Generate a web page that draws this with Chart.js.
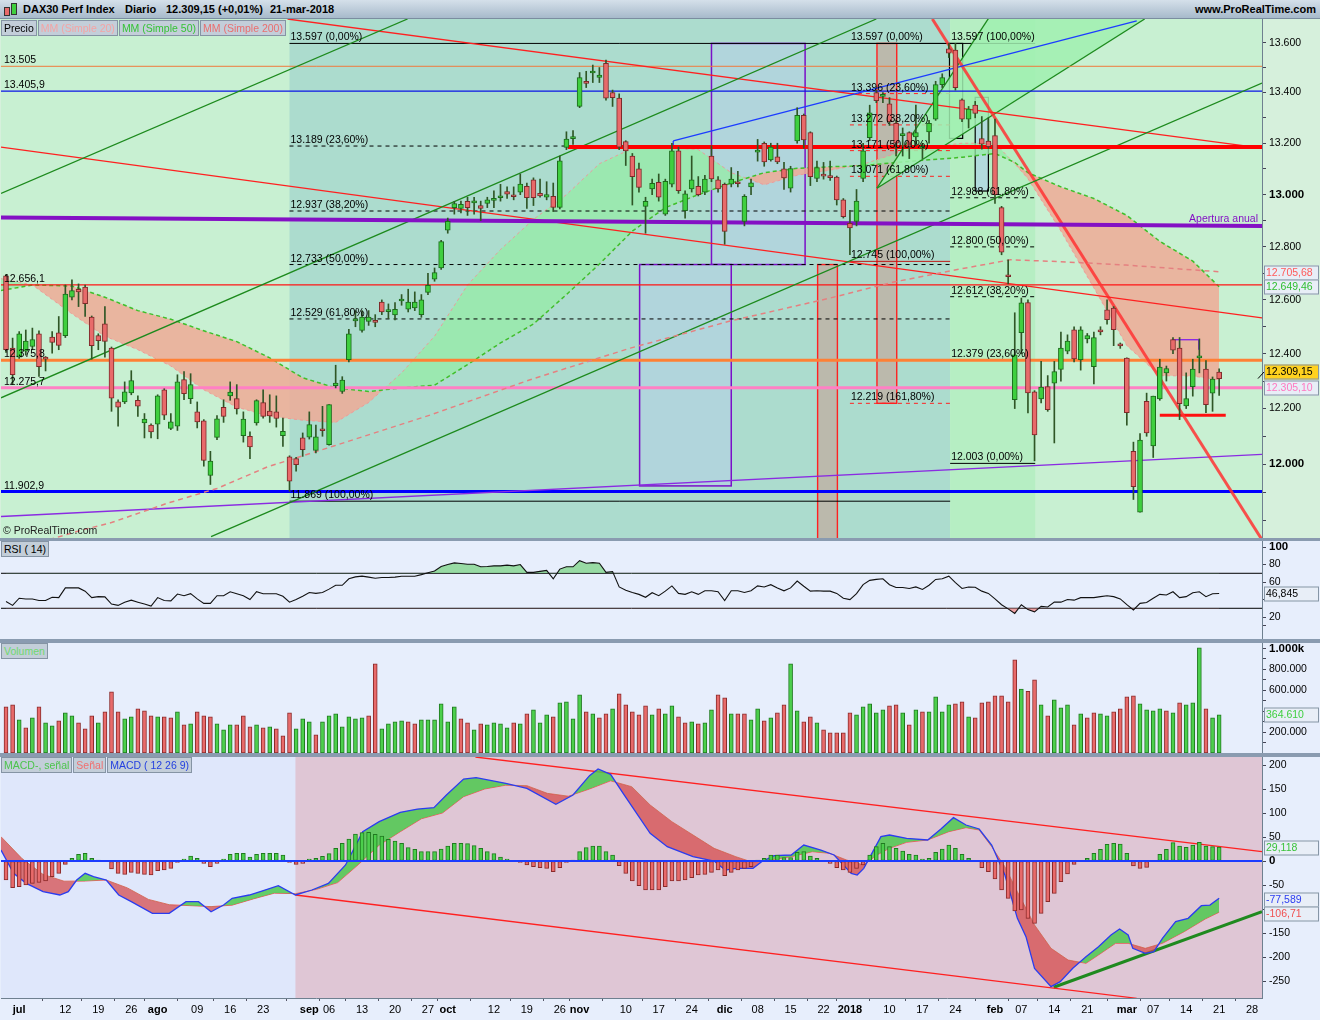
<!DOCTYPE html>
<html lang="es">
<head>
<meta charset="utf-8">
<title>DAX30 Perf Index - Diario</title>
<script src="https://cdn.jsdelivr.net/npm/chart.js@4.4.1/dist/chart.umd.min.js"></script>
<style>
  html, body { margin: 0; padding: 0; }
  body { width: 1320px; height: 1020px; position: relative; overflow: hidden; background: #8a9bb0;
         font-family: "Liberation Sans", Arial, sans-serif; }
  canvas { position: absolute; left: 0; display: block; }
  #header { position: absolute; left: 0; top: 0; width: 1320px; height: 19px; box-sizing: border-box;
            background: linear-gradient(#d5e0ea, #a7bacb); border-bottom: 1px solid #7b8da0;
            font-size: 11px; font-weight: bold; color: #000; }
  #header span { position: absolute; top: 3px; white-space: pre; }
  .ico { position: absolute; width: 4px; border: 1px solid #333; }
  .legend { position: absolute; left: 1px; display: flex; font-size: 10.5px; z-index: 2; }
  .legend span { background: #c3ced9; border: 1px solid #8594a4; padding: 0 2px; height: 14px; line-height: 14px; margin-right: 1px; }
  #copy { position: absolute; left: 3px; top: 524px; font-size: 10.5px; color: #222; }
</style>
</head>
<body>
<div id="header">
  <div class="ico" style="left:4px;top:7px;height:7px;background:#e86a6a"></div>
  <div class="ico" style="left:11px;top:3px;height:10px;background:#3fcf3f"></div>
  <span style="left:23px">DAX30 Perf Index</span>
  <span style="left:125px">Diario</span>
  <span style="left:166px">12.309,15 (+0,01%)</span>
  <span style="left:270px">21-mar-2018</span>
  <span style="right:4px">www.ProRealTime.com</span>
</div>

<canvas id="cPrice" width="1320" height="519" style="top:19px"></canvas>
<div class="legend" style="top:20px">
  <span style="color:#000">Precio</span><span style="color:#f4a4a4">MM (Simple 20)</span><span style="color:#36c336">MM (Simple 50)</span><span style="color:#ea6e6e">MM (Simple 200)</span>
</div>
<div id="copy">© ProRealTime.com</div>

<canvas id="cRsi" width="1320" height="98" style="top:541px"></canvas>
<div class="legend" style="top:541px"><span style="color:#000">RSI ( 14)</span></div>

<canvas id="cVol" width="1320" height="110" style="top:643px"></canvas>
<div class="legend" style="top:643px"><span style="color:#6fd86f">Volumen</span></div>

<canvas id="cMacd" width="1320" height="263" style="top:757px"></canvas>
<div class="legend" style="top:757px">
  <span style="color:#4cc44c">MACD-, señal</span><span style="color:#f07070">Señal</span><span style="color:#2440e0">MACD ( 12 26 9)</span>
</div>

<script>
// ===== daily series, one value per trading day (29-jun-2017 .. 21-mar-2018) =====
const candleOpen = [12690,12421,12388,12410,12427,12474,12388,12462,12477,12467,
  12610,12640,12648,12536,12467,12511,12421,12224,12224,12257,
  12230,12148,12140,12144,12268,12128,12136,12305,12236,12188,
  12156,11960,12096,12204,12246,12236,12102,12100,12148,12222,
  12191,12188,12102,12026,12020,12094,12097,12049,12125,12070,
  12283,12262,12378,12522,12486,12520,12523,12592,12556,12544,
  12596,12565,12570,12545,12628,12678,12720,12864,12950,12947,
  12974,12968,12958,12966,12978,12988,13012,12996,13010,13032,
  13057,13005,12990,12994,12951,13184,13218,13345,13445,13478,
  13460,13517,13400,13378,13206,13150,13100,12955,13022,13048,
  12925,13041,13170,12938,13022,13032,13010,13150,13057,13040,
  13041,13050,12897,13030,13165,13200,13135,13147,13100,13025,
  13209,13310,13242,13063,13078,13070,13068,12980,12890,12897,
  13063,13222,13400,13385,13355,13278,13230,13242,13225,13180,
  13244,13295,13432,13575,13570,13371,13295,13350,13218,13208,
  13230,12950,12690,12232,12478,12590,12261,12235,12280,12292,
  12343,12410,12489,12378,12455,12353,12489,12563,12569,12437,
  12384,12046,11830,12226,12065,12235,12330,12452,12421,12210,
  12280,12385,12344,12256,12333];
const candleHigh = [12695,12458,12482,12488,12495,12485,12390,12482,12538,12656,
  12675,12660,12656,12540,12474,12575,12425,12232,12297,12338,
  12246,12182,12145,12250,12272,12182,12323,12335,12327,12224,
  12160,12046,12175,12232,12297,12287,12188,12116,12232,12268,
  12250,12246,12166,12030,12025,12112,12188,12140,12208,12214,
  12358,12316,12490,12560,12560,12560,12545,12600,12585,12590,
  12620,12640,12630,12620,12700,12720,12825,12910,12974,12975,
  12990,12990,12975,12990,13015,13040,13030,13030,13080,13045,
  13065,13060,13050,13045,13150,13245,13250,13480,13485,13510,
  13500,13530,13410,13395,13210,13160,13122,12990,13060,13080,
  13060,13200,13185,13015,13150,13070,13075,13190,13070,13045,
  13105,13090,13000,13060,13215,13205,13200,13200,13125,13110,
  13340,13315,13245,13130,13125,13130,13072,12985,12940,13020,
  13200,13350,13410,13400,13380,13290,13260,13245,13350,13200,
  13290,13445,13475,13597,13597,13375,13345,13365,13305,13300,
  13295,12955,12751,12552,12607,12600,12265,12372,12320,12372,
  12480,12470,12500,12500,12475,12480,12500,12600,12575,12440,
  12385,12079,12110,12256,12245,12380,12355,12460,12460,12330,
  12380,12455,12375,12315,12345];
const candleLow = [12405,12287,12383,12395,12415,12317,12337,12402,12415,12460,
  12600,12575,12538,12380,12415,12388,12190,12136,12218,12250,
  12172,12094,12094,12091,12160,12124,12121,12232,12218,12130,
  11993,11928,12088,12150,12230,12180,12079,12020,12140,12165,
  12150,12133,12064,11904,11975,12028,12090,12040,12100,12068,
  12275,12255,12370,12500,12480,12505,12500,12545,12530,12525,
  12580,12555,12560,12535,12620,12670,12715,12852,12925,12930,
  12920,12925,12900,12950,12950,12975,12985,12980,13000,12947,
  12958,12990,12980,12935,12945,13175,13195,13340,13420,13440,
  13440,13370,13345,13175,13113,12960,13010,12852,13000,12975,
  12920,13030,13005,12910,13010,12995,13000,13050,13010,12810,
  13030,13030,12880,13000,13130,13110,13130,13120,13020,13010,
  13200,13180,13035,13050,13060,13055,12960,12910,12770,12880,
  13050,13210,13360,13360,13270,13150,13150,13140,13190,13140,
  13200,13290,13420,13540,13410,13285,13260,13300,13177,13180,
  12966,12770,12660,12200,12400,12184,12012,12220,12190,12076,
  12300,12400,12370,12340,12440,12290,12470,12510,12430,12420,
  12140,11875,11830,12100,12024,12230,12300,12400,12160,12200,
  12245,12330,12185,12190,12248];
const candleClose = [12415,12323,12474,12447,12452,12353,12380,12442,12431,12622,
  12635,12630,12586,12430,12448,12446,12238,12205,12261,12302,
  12209,12162,12116,12246,12176,12152,12297,12254,12287,12152,
  12014,12011,12163,12172,12260,12199,12162,12062,12229,12172,
  12173,12164,12118,11940,11998,12052,12142,12098,12120,12214,
  12293,12304,12474,12526,12536,12536,12516,12555,12562,12565,
  12600,12592,12592,12600,12655,12703,12820,12897,12966,12963,
  12950,12972,12947,12980,12984,12993,13002,12992,13041,12988,
  12988,12995,13000,12951,13131,13216,13222,13460,13437,13482,
  13470,13378,13380,13185,13170,13070,13028,12974,13044,12990,
  13052,13170,13015,13003,13057,13000,13060,13061,13022,12859,
  13060,13042,12994,13046,13172,13127,13185,13127,13065,13101,
  13310,13213,13070,13105,13072,13066,12980,12915,12872,12975,
  13170,13320,13368,13388,13285,13200,13238,13187,13242,13185,
  13278,13432,13460,13558,13420,13295,13335,13317,13196,13187,
  13000,12780,12687,12396,12589,12257,12105,12278,12196,12335,
  12421,12447,12381,12489,12467,12460,12481,12526,12489,12429,
  12185,11920,12086,12112,12245,12351,12346,12413,12218,12236,
  12344,12390,12214,12307,12309.15];

// volume in thousands, and the bar colour letter (G up / R down)
const volumeK = [442,461,318,241,337,442,289,260,308,385,
  356,289,232,356,289,394,585,394,327,346,
  423,404,356,346,346,337,394,270,279,394,
  356,346,279,222,270,270,356,251,270,241,
  251,232,165,385,232,327,299,174,299,356,
  375,251,346,327,337,356,853,232,279,299,
  308,299,279,318,318,318,470,299,442,327,
  289,222,279,270,289,279,241,289,279,375,
  413,289,365,346,480,490,327,557,394,375,
  337,375,423,566,461,394,365,451,365,423,
  375,451,346,289,299,279,289,413,557,528,
  375,375,375,318,423,308,337,385,461,853,
  404,299,346,289,222,193,193,193,385,365,
  442,470,385,413,451,461,385,270,413,394,
  394,538,394,461,470,490,346,337,480,490,
  547,547,490,892,611,589,700,461,356,509,
  432,461,270,375,337,385,375,356,394,423,
  538,547,470,413,404,423,404,385,480,461,
  480,1007,423,337,364.61];
const volumeDir = "RRGRGRGGRG" + "GRRRGRRRGG" + "RRRGRRGRGR" + "RRGGGRRRGR" + "GRRRGGGRGG" +
  "GGGGGRRGGG" + "GRRGGGGGGR" + "RGRGGGGRGR" + "GGGRGGGGRG" + "RRGRRRRRGR" +
  "GGRRGRGGRR" + "GRRGGRGRRG" + "GRRGRRRRRG" + "GGGGRRGRGR" + "GGGGRRGRRR" +
  "RRRRGRRGRG" + "GGRGRRGGRR" + "RRGGGGRGRG" + "GGRGG";

const rsi14 = [37.8,33.3,41.5,40.7,40.7,38.9,38.9,42.6,42.2,53.3,
  53.3,53.3,49.6,42.2,43.3,43.0,34.8,33.3,37.0,39.3,
  37.0,34.8,32.6,42.2,38.9,38.5,46.3,44.4,46.7,40.7,
  35.6,35.6,44.4,44.4,48.9,46.7,44.4,40.0,48.9,46.7,
  46.7,46.7,43.7,37.0,40.0,43.7,48.1,47.0,48.1,51.9,
  56.3,56.3,63.7,65.9,66.7,65.6,64.4,65.2,65.2,65.6,
  66.7,66.7,66.7,68.5,70.7,72.6,77.8,80.0,81.9,81.1,
  80.4,80.4,77.4,77.8,78.5,78.5,79.3,78.5,80.0,71.1,
  71.1,72.2,73.3,63.7,74.8,77.4,77.4,84.4,81.5,82.2,
  81.5,71.1,71.9,54.4,50.7,48.1,45.9,42.6,47.8,44.4,
  49.6,55.6,47.0,45.9,48.9,45.9,50.0,50.0,48.9,38.9,
  50.0,50.0,48.1,50.0,55.6,54.4,57.0,53.3,50.0,53.3,
  61.1,55.2,49.6,50.0,49.6,49.6,47.0,41.5,40.0,46.7,
  57.0,61.9,63.0,63.7,57.0,53.7,53.7,52.6,54.4,51.5,
  56.3,63.0,63.7,66.7,59.3,52.6,54.4,54.1,49.6,47.0,
  40.7,34.1,29.3,24.1,34.1,28.5,25.9,32.2,31.5,37.0,
  37.0,40.0,39.3,42.2,42.2,42.2,43.3,44.4,43.3,40.7,
  34.1,28.1,35.6,36.7,41.5,45.9,45.2,48.9,42.2,43.3,
  47.8,48.9,43.3,46.7,46.845];

const macdHist = [-39.6,-55.6,-53.5,-50,-46.5,-44.4,-41.7,-32.6,-25.7,-6.9,
  5.6,13.9,16,5.6,2.1,0.5,-16.7,-25.7,-27.8,-23.6,
  -25.7,-27.8,-29.2,-20.1,-18.8,-15.3,-2.8,4.2,10.4,5.6,
  -4.9,-11.8,-4.9,4.2,13.9,16,16,8.3,13.9,16,
  16,16,12.5,-2.8,-6.9,-4.9,4.2,5.6,9.7,15.3,
  26.4,36.8,45.8,56.3,59,59.7,55.6,52.1,45.1,41.7,
  36.8,27.8,24.3,19.4,19.4,19.4,25,31.3,36.8,36.8,
  36.1,31.9,26.4,19.4,15.3,8.3,4.2,0.5,-2.8,-8.3,
  -11.8,-13.9,-15.3,-22.2,-13.9,-2.8,2.1,19.4,27.8,31.3,
  31.3,19.4,12.5,-9.7,-25.7,-41.7,-51.4,-60.4,-60.4,-60.4,
  -53.5,-41.7,-41.7,-39.6,-34.7,-29.2,-27.8,-23.6,-18.8,-30.6,
  -23.6,-18.8,-15.3,-11.8,2.1,5.6,12.5,12.5,6.9,6.9,
  18.1,19.4,10.4,5.6,0.3,-4.9,-13.9,-18.8,-23.6,-15.3,
  -8.3,12.5,29.9,36.8,29.9,26.4,20.8,13.9,12.5,4.2,
  5.6,18.1,25,33.3,26.4,13.9,5.6,0.3,-13.9,-22.2,
  -37.5,-60.4,-77.8,-104.2,-102.1,-119.4,-129.9,-109,-84.7,-67.4,
  -43.1,-27.1,-6.9,1,5.6,16,24.3,34.7,36.8,35.4,
  16,-10.4,-15.3,-13.2,0.5,13.9,24.3,38.2,31.3,28.5,
  33.3,38.9,31.3,29.9,29.118];

// ===== smooth lines read at sampled day positions =====
const maIdx = [-0.8,4,10,15,20,25,30,35,40,45,50,55,60,65,70,75,80,85,90,95,100,105,110,115,120,125,130,135,140,145,150,153,155,160,165,170,175,180,184];
const mm50  = [12635,12656,12652,12610,12560,12528,12485,12445,12385,12312,12275,12262,12275,12285,12360,12440,12510,12620,12735,12860,12950,13000,13045,13085,13102,13108,13112,13125,13135,13145,13160,13125,13085,13030,12985,12920,12821,12746,12649.46];
const mm20  = [12680,12656,12548,12465,12415,12355,12268,12205,12172,12158,12150,12222,12330,12465,12656,12790,12905,13000,13120,13180,13184,13175,13085,13038,13075,13095,13118,13160,13185,13200,13200,13120,13062,12860,12645,12430,12320,12318,12305.1];
const mm200Idx = [0,11.4,16,24.5,32,39.6,49.7,64.4,79.5,94.7,109.8,125,134.6,144.7,152.3,159.8,169.9,184];
const mm200    = [11690,11767,11794,11862,11914,11990,12065,12177,12305,12421,12521,12607,12667,12716,12751,12744,12731,12705.68];

const macdIdx = [-0.76,1.15,3.07,5.62,8.17,9.45,10.72,12,13.27,15.2,17.1,19,22.2,24.75,27.3,29.2,31.1,33,34.3,36.9,38.8,41.3,43.9,46.4,48.9,51.5,54.1,56.6,59.8,62.4,64.9,66.8,69.4,71.3,75.8,79,83.4,86,88.5,89.8,91.7,93.6,97.7,100.3,104.2,107.4,109.1,110.7,113.3,114.6,116.5,119.1,121,123.6,125.6,128.2,129.1,130.1,132.7,134,136.6,139.8,141.8,143.7,145.6,147.6,149.5,151.5,153.4,154.7,156,158.5,159.9,161.8,163.8,165.7,167.6,168.9,170.2,170.9,172.8,174.1,175.4,177.4,179.3,181.3,182.6,184];
const macdLine = [22.9,-25.7,-46.5,-63.9,-70.8,-63.9,-39.6,-25.7,-32.6,-39.6,-70.8,-84.7,-109,-109,-84.7,-84.7,-105.6,-91.7,-77.8,-70.8,-62.5,-51.4,-70.8,-60.4,-46.5,-8.3,61.1,81.9,101.4,108.3,111.1,137.5,170.8,173.6,161.8,151.4,118.1,137.5,177.8,191.7,180.6,141,57.6,29.9,9,0,-18.8,-15.3,-15.3,-1.4,11.1,12.5,33.3,22.9,12.5,-25.7,-29.2,-15.3,50.7,54.2,47.2,43.8,66.7,90.3,75,66.7,33.3,-29.2,-119.4,-157.6,-223.6,-261.8,-251.4,-223.6,-199.3,-178.5,-154.2,-141.7,-154.2,-181.9,-192.4,-188.9,-161.1,-126.4,-119.4,-93.1,-91.7,-77.589];
const signalIdx = [-0.76,2.43,5.62,8.8,12,15.2,18.4,21.6,24.75,27.9,31.1,34.3,37.5,40.7,43.9,47.1,50.3,53.4,56.6,59.8,63,66.2,69.4,72.6,75.8,79,82.1,85.3,88.5,91.7,94.9,97.7,101,104.2,107.4,110.7,113.3,115.9,119.1,122.3,124.9,127.5,130.1,132.1,134,136.6,139.8,143,145.6,147.6,149.5,151.5,153.4,156,158.5,161.1,163.8,165.7,168.3,170.2,172.8,175.4,178.7,181.9,184];
const signalLine = [50.7,5,-28,-42,-41.7,-39.6,-56,-80,-91,-93,-95,-92,-79,-67,-68,-59,-45,-8,33,61,88,100,134,150,158,157,141,135,150,167,154.9,116.7,81.9,54.2,26.4,9,-2.8,2.1,9,19.4,16,2.1,-8.3,12.5,26.4,38.9,43.8,61.1,69.4,64.6,29.9,-11.8,-63.9,-133.3,-181.9,-206.3,-213.2,-195.8,-171.5,-171.5,-181.9,-171.5,-147.2,-120.8,-106.71];

// ===== horizontal levels and drawn objects (day index, price) =====
const levelValues = [13505, 13405.9, 12656.1, 12375.8, 12275.7, 11902.9];
const levelKinds  = ['orange', 'blue', 'red', 'orangeThick', 'pinkThick', 'blueThick'];

// [from day, to day, price at from, price at to, kind]
const priceLines = [
  [85.2, 190.5, 13185, 13185, 'redThick'],
  [-0.76, 190.5, 12912, 12880, 'purpleThick'],
  [-0.76, 132.0, 12239, 13696, 'green'],
  [-0.76, 60.9, 13005, 13696, 'green'],
  [31.1, 190.5, 11745, 13438, 'green'],
  [101.2, 171.5, 13209, 13688, 'blue1'],
  [101.2, 101.2, 13209, 13185, 'blue1'],
  [-0.76, 190.5, 13185, 12533, 'red1'],
  [42.7, 190.5, 13696, 13181, 'red1'],
  [140.5, 190.5, 13696, 11734, 'redSteep'],
  [-0.76, 190.5, 11815, 12035, 'purple1'],
  [175.0, 185.0, 12176, 12176, 'redShort'],
  [176.9, 180.9, 12452, 12452, 'purple1'],
  [180.9, 180.9, 12452, 12415, 'purple1']
];
// green fan filled between its two rays
const fanRayA = [132.1, 172.7, 13025, 14700];
const fanRayB = [132.1, 172.7, 13025, 13696];

const fibSets = [
  { from: 43.0, to: 143.2, values: [13597, 13189, 12937, 12733, 12529, 11869],
    pcts: ['0,00%', '23,60%', '38,20%', '50,00%', '61,80%', '100,00%'], kinds: ['solid', 'dash', 'dash', 'dash', 'dash', 'solid'] },
  { from: 128.0, to: 143.2, values: [13597, 13396, 13272, 13171, 13071, 12745, 12219],
    pcts: ['0,00%', '23,60%', '38,20%', '50,00%', '61,80%', '100,00%', '161,80%'], kinds: ['solid', 'redDash', 'redDash', 'redDash', 'redDash', 'redSolid', 'redDash'] },
  { from: 143.2, to: 156.1, values: [13597, 12988, 12800, 12612, 12379, 12003],
    pcts: ['100,00%', '61,80%', '50,00%', '38,20%', '23,60%', '0,00%'], kinds: ['solid', 'dash', 'dash', 'dash', 'dash', 'solid'] }
];

// [from day, to day, top price (null = top), bottom price (null = bottom), kind]
const priceZones = [
  [43.0, 143.2, null, null, 'teal'],
  [143.2, 156.1, null, null, 'greenCol'],
  [107.0, 121.2, 13597, 12733, 'blueBox'],
  [96.1, 110.0, 12733, 11923, 'blueBox'],
  [123.1, 126.1, 12733, null, 'grayBox'],
  [132.1, 135.1, 13597, 12219, 'grayBox'],
  [143.1, 145.1, 13597, 13219, 'blackBox'],
  [147.0, 149.0, 13381, 13014, 'blackBlue']
];

// MACD pane objects
const macdChannel = [
  [71.2, 190.5, 216.7, 19.4, 'red1'],
  [43.9, 171.5, -70.8, -286, 'red1'],
  [158.9, 190.5, -263, -105.6, 'greenThick']
];
const macdBand = [43.9, 190.5];

// axes (labels that sit under a value tag are left blank, as in the picture)
const priceTicks = [11800,11900,12000,12100,12200,12300,12400,12500,12600,12700,12800,12900,13000,13100,13200,13300,13400,13500,13600];
const rsiTicks = [10, 20, 40, 60, 80, 100];
const volTicks = [100, 200, 300, 400, 500, 600, 700, 800, 900, 1000];
const macdTicks = [-250, -200, -150, -100, -50, 0, 50, 100, 150, 200];
const hiddenLabels = { rsi: [10, 40], vol: [400], macd: [-100] };
const dateTickIdx = [2,9,14,19,23,29,34,39,46,49,54,59,64,67,74,79,84,87,94,99,104,109,114,119,124,128,134,139,144,150,154,159,164,170,174,179,184,189];
const dateTickText = ['jul','12','19','26','ago','09','16','23','sep','06','13','20','27','oct','12','19','26','nov','10','17','24','dic','08','15','22','2018','10','17','24','feb','07','14','21','mar','07','14','21','28'];
const monthNames = ['jul','ago','sep','oct','nov','dic','2018','feb','mar'];

// ===== styles =====
const FONT = '"Liberation Sans", Arial, sans-serif';
const X_MIN = -0.76, X_MAX = 190.5;
const PRICE_MIN = 11740, PRICE_MAX = 13696;

const lineStyle = {
  orange:      { c: '#f07a3c', w: 1 },
  blue:        { c: '#0a14e6', w: 1.3 },
  red:         { c: '#ff1414', w: 1.3 },
  orangeThick: { c: '#ff8035', w: 3 },
  pinkThick:   { c: '#ff80c4', w: 3 },
  blueThick:   { c: '#0000ff', w: 3 },
  redThick:    { c: '#ff0000', w: 4 },
  purpleThick: { c: '#8410c4', w: 4 },
  green:       { c: '#1d8a1d', w: 1.3 },
  blue1:       { c: '#1c3cff', w: 1.3 },
  red1:        { c: '#ff2020', w: 1.3 },
  redSteep:    { c: 'rgba(255,50,50,0.85)', w: 3 },
  purple1:     { c: '#8a2be2', w: 1.4 },
  redShort:    { c: '#ff1010', w: 3 },
  greenThick:  { c: '#1f8a1f', w: 3 },
  solid:       { c: '#000', w: 1 },
  dash:        { c: '#000', w: 1, d: [4, 4] },
  redDash:     { c: '#ff2020', w: 1, d: [4, 4] },
  redSolid:    { c: '#c01818', w: 1 }
};
const zoneStyle = {
  teal:      { fill: '#acdcce' },
  greenCol:  { fill: '#b6eec3' },
  blueBox:   { fill: '#b1d5dc', stroke: '#7a10c8', lw: 1.5 },
  grayBox:   { fill: '#bbb9ac', stroke: '#ff2020', lw: 1.4 },
  blackBox:  { stroke: '#000', lw: 1.2 },
  blackBlue: { fill: 'rgba(178,214,228,0.8)', stroke: '#000', lw: 1.2 },
  pinkBand:  { fill: '#dfc6d5' }
};

function fmtNum(v, dec) {
  const s = Math.abs(v).toFixed(dec).split('.');
  const int = s[0].replace(/\B(?=(\d{3})+(?!\d))/g, '.');
  return (v < 0 ? '-' : '') + int + (s[1] ? ',' + s[1] : '');
}
const fmtAuto = v => fmtNum(v, Number.isInteger(v) ? 0 : 1);

Chart.defaults.font.family = FONT;
Chart.defaults.font.size = 10.5;
Chart.defaults.color = '#000';
Chart.defaults.animation = false;
Chart.defaults.events = [];
Chart.defaults.elements.point.radius = 0;
Chart.defaults.elements.point.hoverRadius = 0;
Chart.defaults.elements.line.tension = 0;
Chart.defaults.plugins.legend.display = false;
Chart.defaults.plugins.tooltip.enabled = false;

// ===== small plugins: pane colours, shaded zones, texts, value tags =====
Chart.register({
  id: 'paneBg',
  beforeDraw(chart, args, opts) {
    const { ctx, chartArea: a, width, height } = chart;
    ctx.save();
    ctx.fillStyle = opts.outer || '#e7eefc';
    ctx.fillRect(0, 0, width, height);
    ctx.fillStyle = opts.inner || '#e7eefc';
    ctx.fillRect(a.left, a.top, a.right - a.left, a.bottom - a.top);
    ctx.restore();
  }
});

Chart.register({
  id: 'zones',
  beforeDatasetsDraw(chart, args, opts) {
    if (!opts.items) return;
    const { ctx, chartArea: a, scales: { x, y } } = chart;
    ctx.save();
    ctx.beginPath();
    ctx.rect(a.left, a.top, a.right - a.left, a.bottom - a.top);
    ctx.clip();
    opts.items.forEach(z => {
      const st = zoneStyle[z[4]];
      const x1 = x.getPixelForValue(z[0]), x2 = x.getPixelForValue(z[1]);
      const y1 = z[2] == null ? a.top : y.getPixelForValue(z[2]);
      const y2 = z[3] == null ? a.bottom + 2 : y.getPixelForValue(z[3]);
      if (st.fill) { ctx.fillStyle = st.fill; ctx.fillRect(x1, y1, x2 - x1, y2 - y1); }
      if (st.stroke) { ctx.strokeStyle = st.stroke; ctx.lineWidth = st.lw; ctx.strokeRect(x1, y1, x2 - x1, y2 - y1); }
    });
    ctx.restore();
  }
});

Chart.register({
  id: 'texts',
  afterDatasetsDraw(chart, args, opts) {
    if (!opts.items) return;
    const { ctx, scales: { x, y } } = chart;
    ctx.save();
    opts.items.forEach(t => {
      ctx.font = (t.size || 10.5) + 'px ' + FONT;
      ctx.fillStyle = t.color || '#000';
      ctx.textAlign = t.align || 'left';
      ctx.textBaseline = 'alphabetic';
      ctx.fillText(t.text, x.getPixelForValue(t.i) + (t.dx || 0), y.getPixelForValue(t.v) + (t.dy || 0));
    });
    ctx.restore();
  }
});

Chart.register({
  id: 'tags',
  afterDraw(chart, args, opts) {
    if (!opts.items) return;
    const { ctx, chartArea: a, scales: { y } } = chart;
    ctx.save();
    opts.items.forEach(t => {
      const yy = Math.round(y.getPixelForValue(t.value) + (t.dy || 0));
      const x0 = a.right + 2, w = 55, h = 15;
      if (t.tick) {
        ctx.strokeStyle = '#000'; ctx.lineWidth = 1;
        ctx.beginPath(); ctx.moveTo(a.right - 4, y.getPixelForValue(t.value)); ctx.lineTo(a.right + 2, yy); ctx.stroke();
      }
      ctx.fillStyle = t.bg || '#e8eef7';
      ctx.fillRect(x0, yy - h / 2, w, h);
      ctx.strokeStyle = '#8696a6'; ctx.lineWidth = 1;
      ctx.strokeRect(x0 + 0.5, yy - h / 2 + 0.5, w - 1, h - 1);
      ctx.fillStyle = t.color;
      ctx.font = '10.5px ' + FONT;
      ctx.textAlign = 'left'; ctx.textBaseline = 'middle';
      ctx.fillText(t.text, x0 + 2, yy + 0.5);
    });
    ctx.restore();
  }
});

// ===== shared axis builders =====
function xAxis(show) {
  return {
    type: 'linear', min: X_MIN, max: X_MAX, offset: false, display: show,
    afterBuildTicks: s => { s.ticks = dateTickIdx.map(v => ({ value: v })); },
    // no automatic label padding: the pane must span the whole canvas width
    afterFit: s => { s.height = show ? 22 : 0; s.paddingLeft = 0; s.paddingRight = 0; },
    grid: { drawOnChartArea: false, tickLength: 3, color: '#556' },
    border: { color: '#6f8090' },
    ticks: {
      autoSkip: false, maxRotation: 0, minRotation: 0, padding: 2,
      callback: (v, k) => dateTickText[k],
      font: c => ({ family: FONT, size: 11, weight: monthNames.includes(dateTickText[c.index]) ? 'bold' : 'normal' })
    }
  };
}
function yAxis(type, min, max, tickVals, label, boldTest) {
  return {
    type: type, position: 'right', min: min, max: max,
    afterFit: s => { s.width = 58; s.paddingTop = 0; s.paddingBottom = 0; },
    afterBuildTicks: s => { s.ticks = tickVals.map(v => ({ value: v })); },
    grid: { drawOnChartArea: false, tickLength: 4, color: '#445' },
    border: { color: '#6f8090' },
    ticks: {
      autoSkip: false, padding: 3, callback: label,
      font: c => ({ family: FONT, size: c.tick && boldTest(c.tick.value) ? 11.5 : 10.5, weight: c.tick && boldTest(c.tick.value) ? 'bold' : 'normal' })
    }
  };
}
const layout = { padding: { left: 1, right: 0, top: 0, bottom: 0 }, autoPadding: false };

const pts = (xs, ys) => xs.map((x, k) => ({ x: x, y: ys[k] }));
const daily = ys => ys.map((y, i) => ({ x: i, y: y }));
function seg(i1, i2, v1, v2, kind, order) {
  const st = lineStyle[kind];
  return { type: 'line', data: [{ x: i1, y: v1 }, { x: i2, y: v2 }], borderColor: st.c, borderWidth: st.w,
           borderDash: st.d || [], order: order };
}

// ===== price pane =====
const up = candleOpen.map((o, i) => candleClose[i] >= o);
const FAN = 'rgba(160,240,176,0.85)';
const priceSets = [
  { type: 'bar', data: candleOpen.map((o, i) => ({ x: i, y: [o, candleClose[i]] })),
    backgroundColor: up.map(u => u ? '#3fcf3f' : '#e86a6a'), borderColor: up.map(u => u ? '#1c6b1c' : '#7d2a2a'),
    borderWidth: 1, borderSkipped: false, barThickness: 5, minBarLength: 2, grouped: false, order: 0 },
  { type: 'bar', data: candleLow.map((l, i) => ({ x: i, y: [l, candleHigh[i]] })),
    backgroundColor: '#2f5626', barThickness: 1, grouped: false, order: 1 },
  { type: 'line', data: pts(maIdx, mm50), borderColor: '#3fbf2a', borderWidth: 1.5, borderDash: [4, 3], order: 99 },
  { type: 'line', data: pts(maIdx, mm20), borderColor: 'rgba(240,150,150,0.9)', borderWidth: 1, borderDash: [3, 3],
    fill: { target: 2, above: 'rgba(150,236,165,0.75)', below: 'rgba(238,170,150,0.85)' }, order: 100 },
  { type: 'line', data: pts(mm200Idx, mm200), borderColor: '#e58080', borderWidth: 1.5, borderDash: [5, 4], order: 30 },
  seg(fanRayB[0], fanRayB[1], fanRayB[2], fanRayB[3], 'green', 45),
  Object.assign(seg(fanRayA[0], fanRayA[1], fanRayA[2], fanRayA[3], 'green', 46), { fill: { target: 5, above: FAN, below: FAN } })
];
levelValues.forEach((v, k) => priceSets.push(seg(X_MIN, X_MAX, v, v, levelKinds[k], 40)));
fibSets.forEach(f => f.values.forEach((v, k) => priceSets.push(seg(f.from, f.to, v, v, f.kinds[k], 50))));
priceLines.forEach(l => priceSets.push(seg(l[0], l[1], l[2], l[3], l[4], 35)));

const priceTexts = [];
levelValues.forEach(v => priceTexts.push({ i: X_MIN, v: v, text: fmtAuto(v), dx: 3, dy: -3 }));
fibSets.forEach(f => f.values.forEach((v, k) => priceTexts.push({ i: f.from, v: v, text: fmtNum(v, 0) + ' (' + f.pcts[k] + ')', dx: 1, dy: -3 })));
priceTexts.push({ i: X_MAX, v: 12880, text: 'Apertura anual', align: 'right', dx: -4, dy: -4, color: '#8410c4' });

new Chart(document.getElementById('cPrice'), {
  type: 'bar',
  data: { datasets: priceSets },
  options: {
    responsive: false, layout: layout,
    scales: {
      x: xAxis(false),
      y: yAxis('logarithmic', PRICE_MIN, PRICE_MAX, priceTicks,
               v => (v % 200 === 0 && v >= 12000 ? fmtNum(v, 0) : ''), v => v % 1000 === 0)
    },
    plugins: {
      paneBg: { outer: '#d6f0dc', inner: '#c8f0d2' },
      zones: { items: priceZones },
      texts: { items: priceTexts },
      tags: { items: [
        { value: mm200[mm200.length - 1], text: fmtNum(mm200[mm200.length - 1], 2), color: '#ff5a5a', dy: 1 },
        { value: mm50[mm50.length - 1], text: fmtNum(mm50[mm50.length - 1], 2), color: '#2fbf2f', dy: 0 },
        { value: candleClose[184], text: fmtNum(candleClose[184], 2), color: '#000', bg: '#ffd21f', dy: -7, tick: true },
        { value: mm20[mm20.length - 1], text: fmtNum(mm20[mm20.length - 1], 2), color: '#ff78c0', dy: 8 }
      ] }
    }
  }
});

// ===== RSI pane =====
new Chart(document.getElementById('cRsi'), {
  type: 'line',
  data: { datasets: [
    { data: daily(rsi14), borderColor: '#111', borderWidth: 1.1,
      fill: { target: { value: 70 }, above: 'rgba(125,212,135,0.75)', below: 'rgba(0,0,0,0)' }, order: 1 },
    { data: daily(rsi14), borderWidth: 0, borderColor: 'rgba(0,0,0,0)',
      fill: { target: { value: 30 }, above: 'rgba(0,0,0,0)', below: 'rgba(240,140,140,0.8)' }, order: 2 },
    seg(X_MIN, X_MAX, 70, 70, 'solid', 3),
    seg(X_MIN, X_MAX, 30, 30, 'solid', 3)
  ] },
  options: {
    responsive: false, layout: layout,
    scales: { x: xAxis(false),
      y: yAxis('linear', -5.1, 106.9, rsiTicks, v => (hiddenLabels.rsi.includes(v) ? '' : String(v)), v => v === 100) },
    plugins: {
      paneBg: { outer: '#e7eefc', inner: '#e7eefc' },
      tags: { items: [{ value: rsi14[184], text: fmtNum(rsi14[184], 3), color: '#000' }] }
    }
  }
});

// ===== volume pane =====
new Chart(document.getElementById('cVol'), {
  type: 'bar',
  data: { datasets: [{
    data: daily(volumeK),
    backgroundColor: volumeK.map((v, i) => volumeDir[i] === 'G' ? '#4ccf4c' : '#e86a6a'),
    borderColor: volumeK.map((v, i) => volumeDir[i] === 'G' ? '#1f7a1f' : '#8a2a2a'),
    borderWidth: 1, borderSkipped: false, barThickness: 4, grouped: false
  }] },
  options: {
    responsive: false, layout: layout,
    scales: { x: xAxis(false),
      y: yAxis('linear', 0, 1052.6, volTicks,
               v => (v === 1000 ? '1.000k' : (v % 200 === 0 && !hiddenLabels.vol.includes(v)) ? fmtNum(v * 1000, 0) : ''),
               v => v === 1000) },
    plugins: {
      paneBg: { outer: '#e7eefc', inner: '#e7eefc' },
      tags: { items: [{ value: volumeK[184], text: fmtNum(volumeK[184] * 1000, 0), color: '#3fcf3f' }] }
    }
  }
});

// ===== MACD pane =====
const macdSets = [
  { type: 'bar', data: daily(macdHist),
    backgroundColor: macdHist.map(v => v >= 0 ? '#4ccf4c' : '#e86a6a'),
    borderColor: macdHist.map(v => v >= 0 ? '#1f7a1f' : '#8a2a2a'),
    borderWidth: 1, borderSkipped: false, barThickness: 4, grouped: false, order: 2 },
  { type: 'line', data: pts(macdIdx, macdLine), borderColor: '#2a3cf0', borderWidth: 1.3,
    fill: { target: 2, above: 'rgba(78,200,78,0.85)', below: 'rgba(214,72,72,0.72)' }, order: 6 },
  { type: 'line', data: pts(signalIdx, signalLine), borderColor: '#f06a6a', borderWidth: 1, order: 7 },
  seg(X_MIN, X_MAX, 0, 0, 'blue1', 1)
];
macdSets[3].borderWidth = 2;
macdChannel.forEach(l => macdSets.push(seg(l[0], l[1], l[2], l[3], l[4], 8)));

new Chart(document.getElementById('cMacd'), {
  type: 'bar',
  data: { datasets: macdSets },
  options: {
    responsive: false, layout: layout,
    scales: { x: xAxis(true),
      y: yAxis('linear', -285.4, 216.7, macdTicks, v => (hiddenLabels.macd.includes(v) ? '' : String(v)), v => v === 0) },
    plugins: {
      paneBg: { outer: '#e7eefc', inner: '#dfe7fb' },
      zones: { items: [[macdBand[0], macdBand[1], null, null, 'pinkBand']] },
      tags: { items: [
        { value: macdHist[184], text: fmtNum(macdHist[184], 3), color: '#39c239', dy: 1 },
        { value: macdLine[macdLine.length - 1], text: fmtNum(macdLine[macdLine.length - 1], 3), color: '#2a3cf0', dy: 2 },
        { value: signalLine[signalLine.length - 1], text: fmtNum(signalLine[signalLine.length - 1], 2), color: '#f05050', dy: 2 }
      ] }
    }
  }
});
</script>
</body>
</html>
